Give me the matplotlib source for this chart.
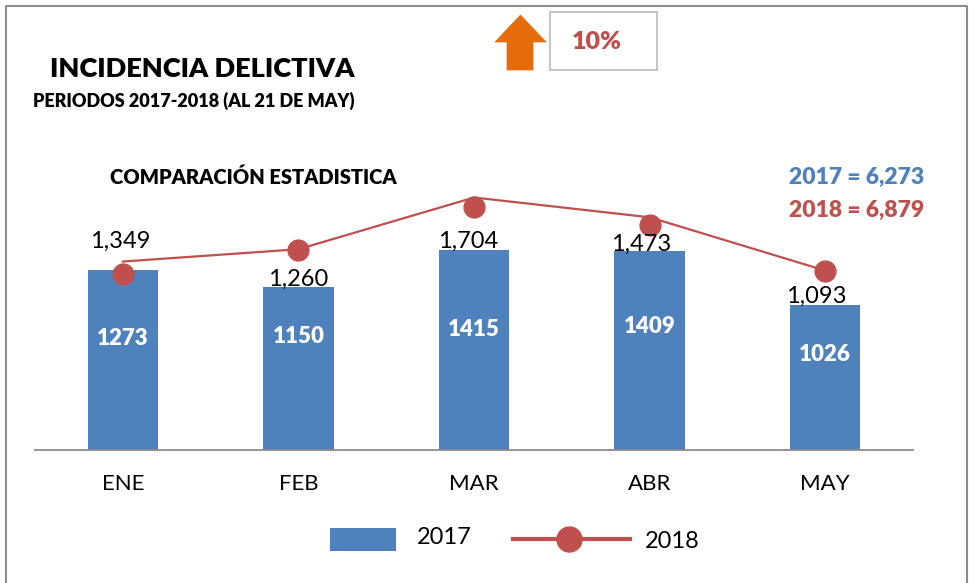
import matplotlib
matplotlib.use("Agg")
import matplotlib.pyplot as plt
from matplotlib.patches import Rectangle, Polygon
from matplotlib.lines import Line2D

plt.rcParams['font.family'] = ['Lato', 'DejaVu Sans']

# ---------------- data ----------------
months = ["ENE", "FEB", "MAR", "ABR", "MAY"]
values_2017 = [1273, 1150, 1415, 1409, 1026]
labels_2018 = [1349, 1260, 1704, 1473, 1093]
# where the 2018 line and its dot markers sit on the chart (bar-axis units)
line_2018_drawn = [1333, 1420, 1786, 1646, 1269]
dots_2018_drawn = [1246, 1416, 1717, 1588, 1269]
total_2017 = 6273
total_2018 = 6879
change_pct = 10

# ---------------- styles ----------------
BLUE = "#4F81BD"
RED = "#C0504D"
ORANGE = "#E46C0A"
GRID_GRAY = "#8C8C8C"
HEAVY = "heavy"

W, H = 969, 583
fig = plt.figure(figsize=(W / 100, H / 100), dpi=100)
fig.patch.set_facecolor("white")


def fx(x):
    return x / W


def fy(y):
    return 1 - y / H


ax = fig.add_axes([fx(35), fy(450), fx(913) - fx(35), fy(150) - fy(450)])
ax.set_facecolor("none")
x = list(range(len(months)))

ax.bar(x, values_2017, width=0.40, color=BLUE, zorder=2)
ax.plot(x, line_2018_drawn, color=RED, lw=1.6, zorder=3)
ax.plot(x, dots_2018_drawn, linestyle="none", marker="o", markersize=15,
        color=RED, zorder=4)

ax.set_xlim(-0.5, len(months) - 0.5)
ax.set_ylim(0, 2122)
for s in ["top", "left", "right"]:
    ax.spines[s].set_visible(False)
ax.spines["bottom"].set_color(GRID_GRAY)
ax.spines["bottom"].set_linewidth(1.3)
ax.set_yticks([])
ax.set_xticks(x)
ax.set_xticklabels(months, fontsize=16)
ax.tick_params(axis="x", length=0, pad=17)

# value labels inside bars
inner_frac = [0.62, 0.70, 0.60, 0.62, 0.66]
for xi, v, fr in zip(x, values_2017, inner_frac):
    ax.text(xi, v * fr, f"{v}", ha="center", va="center", color="white",
            fontsize=16, fontweight=HEAVY, zorder=5)

# 2018 data labels
label_dx_px = [-3, 0, -6, -8, -9]
label_dy_px = [22, 2, 2, 0, 2]
for xi, v, lab, dx, dy in zip(x, values_2017, labels_2018, label_dx_px, label_dy_px):
    ax.annotate(f"{lab:,}", (xi, v), xytext=(dx * 0.72, dy * 0.72),
                textcoords="offset points", ha="center", va="baseline",
                fontsize=17, color="black", zorder=6)

# titles
fig.text(fx(50), fy(69), "INCIDENCIA DELICTIVA", ha="left", va="center",
         fontsize=19.5, fontweight=HEAVY)
fig.text(fx(33), fy(101), "PERIODOS 2017-2018 (AL 21 DE MAY)", ha="left",
         va="center", fontsize=13, fontweight=HEAVY)
fig.text(fx(110), fy(177), "COMPARACIÓN ESTADISTICA", ha="left", va="center",
         fontsize=14.5, fontweight=HEAVY)

# totals
fig.text(fx(924), fy(177), f"2017 = {total_2017:,}", ha="right", va="center",
         fontsize=16.5, fontweight=HEAVY, color=BLUE)
fig.text(fx(924), fy(210), f"2018 = {total_2018:,}", ha="right", va="center",
         fontsize=16.5, fontweight=HEAVY, color=RED)

# arrow and percentage box
arrow_px = [(495, 42), (520.5, 15), (546, 42), (533, 42), (533, 70), (507, 70), (507, 42)]
fig.add_artist(Polygon([(fx(a), fy(b)) for a, b in arrow_px], closed=True,
                       transform=fig.transFigure, facecolor=ORANGE,
                       edgecolor=ORANGE, lw=0.5))
fig.add_artist(Rectangle((fx(550), fy(70)), fx(657) - fx(550), fy(12) - fy(70),
                         transform=fig.transFigure, facecolor="white",
                         edgecolor="#BFBFBF", lw=1.3))
fig.text(fx(597), fy(42), f"{change_pct}%", ha="center", va="center",
         fontsize=18, fontweight=HEAVY, color=RED)

# legend (manual)
fig.add_artist(Rectangle((fx(330), fy(551)), fx(396) - fx(330), fy(528) - fy(551),
                         transform=fig.transFigure, facecolor=BLUE, edgecolor="none"))
fig.text(fx(417), fy(537), "2017", ha="left", va="center", fontsize=17)
fig.add_artist(Line2D([fx(513), fx(630)], [fy(539), fy(539)], transform=fig.transFigure,
                      color=RED, lw=3))
fig.add_artist(Line2D([fx(569)], [fy(539)], transform=fig.transFigure,
                      marker="o", markersize=18, color=RED, linestyle="none"))
fig.text(fx(645), fy(541), "2018", ha="left", va="center", fontsize=17)

# outer frame (left, top, right)
fig.add_artist(Line2D([fx(6), fx(6), fx(967), fx(967)], [0, fy(6), fy(6), 0],
                      transform=fig.transFigure, color=GRID_GRAY, lw=1.5))

fig.savefig("out.png", dpi=100)
